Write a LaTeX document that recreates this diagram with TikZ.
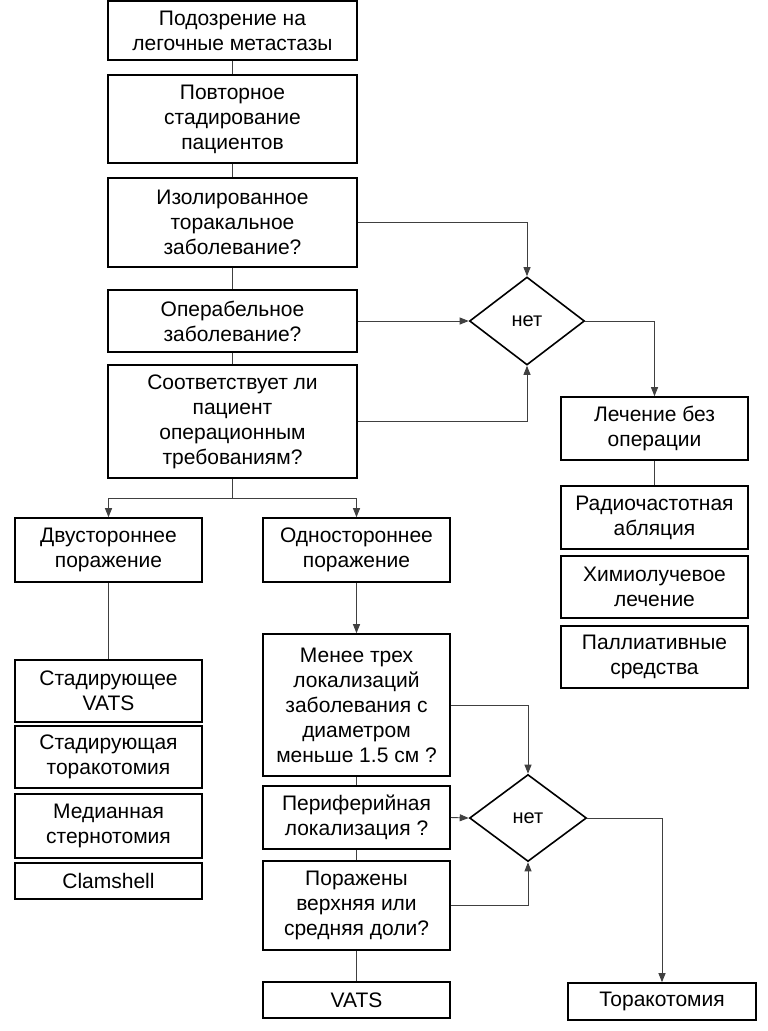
\documentclass[tikz,border=0pt]{standalone}
\usepackage{fontspec}
\setmainfont{Liberation Sans}
\usetikzlibrary{shapes.geometric,arrows.meta}
\tikzset{
  box/.style={draw=black,line width=1.6pt,rectangle,align=center,inner sep=0pt,
    font=\fontsize{21}{25}\selectfont},
  dia/.style={draw=black,line width=1.6pt,diamond,inner sep=0pt,
    font=\fontsize{20}{25}\selectfont},
  con/.style={draw=black!75,line width=0.9pt},
  arr/.style={con,-{Triangle[length=9pt,width=7pt]}}
}
\begin{document}
\begin{tikzpicture}[x=1pt,y=-1pt]
\useasboundingbox (0,0) rectangle (768,1031);
% main column
\node[box,minimum width=249pt,minimum height=59pt] (b1) at (232.5,30.5) {Подозрение на\\легочные метастазы};
\node[box,minimum width=249pt,minimum height=88pt] (b2) at (232.5,119) {Повторное\\стадирование\\пациентов};
\node[box,minimum width=249pt,minimum height=89pt] (b3) at (232.5,222.5) {Изолированное\\торакальное\\заболевание?};
\node[box,minimum width=249pt,minimum height=62pt] (b4) at (232.5,321) {Операбельное\\заболевание?};
\node[box,minimum width=249pt,minimum height=113pt] (b5) at (232.5,421.5) {Соответствует ли\\пациент\\операционным\\требованиям?};
\node[dia,minimum width=115pt,minimum height=88pt] (d1) at (527,321) {нет};
% right column
\node[box,minimum width=187pt,minimum height=63pt] (lech) at (654.5,428.5) {Лечение без\\операции};
\node[box,minimum width=187pt,minimum height=63pt] (radio) at (654.5,517.5) {Радиочастотная\\абляция};
\node[box,minimum width=187pt,minimum height=62pt] (chemo) at (654.5,587) {Химиолучевое\\лечение};
\node[box,minimum width=187pt,minimum height=62pt] (pall) at (654.5,657) {Паллиативные\\средства};
% branches
\node[box,minimum width=187pt,minimum height=64pt] (dvu) at (108.5,550) {Двустороннее\\поражение};
\node[box,minimum width=187pt,minimum height=64pt] (odn) at (356.5,550) {Одностороннее\\поражение};
\node[box,minimum width=187pt,minimum height=62pt] (sv) at (108.5,691) {Стадирующее\\VATS};
\node[box,minimum width=187pt,minimum height=62pt] (st) at (108.5,757) {Стадирующая\\торакотомия};
\node[box,minimum width=187pt,minimum height=64pt] (med) at (108.5,826) {Медианная\\стернотомия};
\node[box,minimum width=187pt,minimum height=36pt] (clam) at (108.5,881) {Clamshell};
\node[box,minimum width=187pt,minimum height=142pt] (men) at (356.5,705) {Менее трех\\локализаций\\заболевания с\\диаметром\\меньше 1.5 см ?};
\node[box,minimum width=187pt,minimum height=63pt] (per) at (356.5,817.5) {Периферийная\\локализация ?};
\node[box,minimum width=187pt,minimum height=89pt] (por) at (356.5,905.5) {Поражены\\верхняя или\\средняя доли?};
\node[box,minimum width=187pt,minimum height=36pt] (vats) at (356.5,1000) {VATS};
\node[dia,minimum width=117pt,minimum height=87pt] (d2) at (528,818) {нет};
\node[box,minimum width=188pt,minimum height=37pt] (tor) at (662,1001.5) {Торакотомия};
% connectors
\draw[con] (b1.south) -- (b2.north);
\draw[con] (b2.south) -- (b3.north);
\draw[con] (b3.south) -- (b4.north);
\draw[con] (b4.south) -- (b5.north);
\draw[arr] (b3.east) -| (d1.north);
\draw[arr] (b4.east) -- (d1.west);
\draw[arr] (b5.east) -| (d1.south);
\draw[arr] (d1.east) -| (lech.north);
\draw[con] (lech.south) -- (radio.north);
\coordinate (br) at (232.5,498);
\draw[con] (b5.south) -- (br);
\draw[arr] (br) -| (dvu.north);
\draw[arr] (br) -| (odn.north);
\draw[con] (dvu.south) -- (sv.north);
\draw[arr] (odn.south) -- (men.north);
\draw[con] (men.south) -- (per.north);
\draw[con] (per.south) -- (por.north);
\draw[con] (por.south) -- (vats.north);
\draw[arr] (men.east) -| (d2.north);
\draw[arr] (per.east) -- (d2.west);
\draw[arr] (por.east) -| (d2.south);
\draw[arr] (d2.east) -| (tor.north);
\end{tikzpicture}
\end{document}
